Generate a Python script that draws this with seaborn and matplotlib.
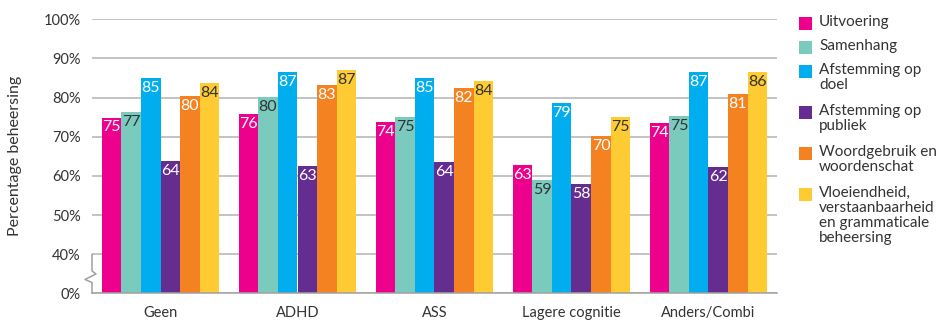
import matplotlib
matplotlib.use("Agg")
import matplotlib.pyplot as plt
import matplotlib.transforms as mtransforms
from matplotlib.patches import Rectangle
import numpy as np
import pandas as pd
import seaborn as sns

# groups on the x axis
groepen = ["Geen", "ADHD", "ASS", "Lagere cognitie", "Anders/Combi"]

# aspects (hue), as shown in the legend
aspecten = ["Uitvoering", "Samenhang", "Afstemming op\ndoel", "Afstemming op\npubliek",
            "Woordgebruik en\nwoordenschat",
            "Vloeiendheid,\nverstaanbaarheid\nen grammaticale\nbeheersing"]
kleuren = ["#EC008C", "#7ACBBE", "#00AEEF", "#662D91", "#F58220", "#FFCB32"]
label_kleur = ["white", "#333333", "white", "white", "white", "#333333"]

# bar heights (percent), per aspect
uitvoering = [74.9, 75.8, 73.7, 62.7, 73.5]
samenhang = [76.3, 80.1, 75.0, 58.9, 75.2]
doel = [85.0, 86.5, 85.0, 78.6, 86.5]
publiek = [63.7, 62.4, 63.5, 57.8, 62.2]
woordgebruik = [80.4, 83.2, 82.4, 70.1, 80.9]
vloeiendheid = [83.7, 87.0, 84.2, 75.0, 86.5]

# printed labels
lab_uitvoering = [75, 76, 74, 63, 74]
lab_samenhang = [77, 80, 75, 59, 75]
lab_doel = [85, 87, 85, 79, 87]
lab_publiek = [64, 63, 64, 58, 62]
lab_woordgebruik = [80, 83, 82, 70, 81]
lab_vloeiendheid = [84, 87, 84, 75, 86]

ytick_labels = ["0%", "40%", "50%", "60%", "70%", "80%", "90%", "100%"]

series = [uitvoering, samenhang, doel, publiek, woordgebruik, vloeiendheid]
labels = [lab_uitvoering, lab_samenhang, lab_doel, lab_publiek, lab_woordgebruik, lab_vloeiendheid]

# broken axis: 0% sits one step below 40%
OFFSET = 30
rows = []
for a, vals in zip(aspecten, series):
    for g, v in zip(groepen, vals):
        rows.append({"groep": g, "aspect": a, "t": v - OFFSET})
df = pd.DataFrame(rows)

sns.set_style("white")
plt.rcParams["font.family"] = ["Lato", "DejaVu Sans"]

W, H = 936, 321
fig = plt.figure(figsize=(W / 100, H / 100), dpi=100)
ax = fig.add_axes([92 / W, 1 - 293.3 / H, (777 - 92) / W, (293.3 - 19.3) / H])

sns.barplot(data=df, x="groep", y="t", hue="aspect", hue_order=aspecten,
            palette=kleuren, saturation=1, width=0.86, legend=False, ax=ax,
            linewidth=0, edgecolor="none")

ax.set_ylim(0, 70)
ax.set_xlim(-0.5, 4.5)
ax.set_yticks(np.arange(0, 71, 10))
ax.set_yticklabels(ytick_labels, fontsize=10.5, color="#333333")
ax.tick_params(axis="y", length=0, pad=8)
ax.yaxis.grid(True, color="#b3b3b3", linewidth=1.1)
ax.set_axisbelow(True)

ax.set_xticks(range(len(groepen)))
ax.set_xticklabels(groepen, fontsize=10.5, color="#333333")
ax.set_xticks(np.arange(-0.5, 5, 1), minor=True)
ax.tick_params(axis="x", which="major", length=0, pad=9)
ax.tick_params(axis="x", which="minor", length=8.6, width=1.1, color="#a0a0a0")

ax.set_xlabel("")
ax.set_ylabel("Percentage beheersing", fontsize=11.5, color="#333333")
ax.yaxis.set_label_coords(-(92 - 22) / 685, 0.5)

for s in ["top", "right", "left"]:
    ax.spines[s].set_visible(False)
ax.spines["bottom"].set_color("#a0a0a0")
ax.spines["bottom"].set_linewidth(1.1)

# y axis line with break symbol
tr = mtransforms.blended_transform_factory(ax.transAxes, ax.transData)
px = 1 / 685
bx = [0, 0, 4 * px, -7 * px, 0, 0]
by = [10, 5.7, 4.94, 3.53, 2.76, 0]
ax.plot(bx, by, color="#a0a0a0", lw=1.1, transform=tr, clip_on=False)

# value labels inside bar tops
for i, cont in enumerate(ax.containers):
    for bar, lab in zip(cont, labels[i]):
        x = bar.get_x() + bar.get_width() / 2
        ax.annotate(str(lab), (x, bar.get_height()), xytext=(0, -2),
                    textcoords="offset points", ha="center", va="top",
                    fontsize=11.5, color=label_kleur[i])

# legend drawn by hand (square aligned with first line)
top = 17
for a, c in zip(aspecten, kleuren):
    fig.add_artist(Rectangle((799 / W, 1 - (top + 13) / H), 13 / W, 13 / H,
                             transform=fig.transFigure, color=c, lw=0))
    fig.text(819 / W, 1 - (top - 2) / H, a, ha="left", va="top",
             fontsize=11, color="#333333", linespacing=1.1)
    top += 17 * (a.count("\n") + 1) + 7

fig.savefig("out.png", dpi=100)
